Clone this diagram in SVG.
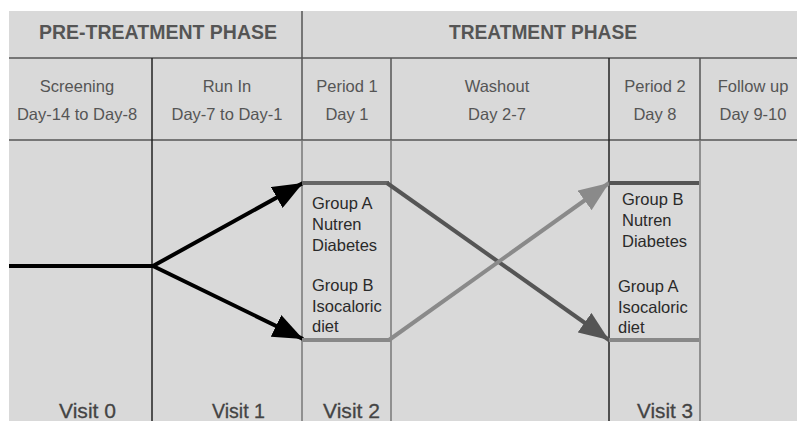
<svg xmlns="http://www.w3.org/2000/svg" width="797" height="421" viewBox="0 0 797 421">
<style>
.hdr{font-family:"Liberation Sans",Arial,sans-serif;font-weight:bold;font-size:20px;fill:#555}
.sub{font-family:"Liberation Sans",Arial,sans-serif;font-size:16.5px;fill:#555;text-anchor:middle}
.box{font-family:"Liberation Sans",Arial,sans-serif;font-size:16.5px;fill:#2a2a2a}
.visit{font-family:"Liberation Sans",Arial,sans-serif;font-size:21px;fill:#444;stroke:#444;stroke-width:0.3}
.grid{stroke:#555;stroke-width:1.5;fill:none}
.gridd{stroke:#222;stroke-width:1.5;fill:none}
.gridl{stroke:#777;stroke-width:1.5;fill:none}
</style>
<defs>
<marker id="ahB" viewBox="0 0 10 8" refX="10" refY="4" markerWidth="7.5" markerHeight="6" orient="auto"><path d="M0,0 L10,4 L0,8 z" fill="#000"/></marker>
<marker id="ahD" viewBox="0 0 10 8" refX="10" refY="4" markerWidth="7.5" markerHeight="6" orient="auto"><path d="M0,0 L10,4 L0,8 z" fill="#555"/></marker>
<marker id="ahL" viewBox="0 0 10 8" refX="10" refY="4" markerWidth="7.5" markerHeight="6" orient="auto"><path d="M0,0 L10,4 L0,8 z" fill="#8a8a8a"/></marker>
</defs>
<rect x="0" y="0" width="797" height="421" fill="#fff"/>
<rect x="9" y="11" width="788" height="410" fill="#d9d9d9"/>
<g id="grid">
<line class="grid" x1="9" y1="58" x2="797" y2="58"/>
<line class="grid" x1="9" y1="140" x2="797" y2="140"/>
<line class="gridd" x1="152" y1="58" x2="152" y2="421"/>
<line class="grid" x1="302" y1="11" x2="302" y2="140"/>
<line class="gridl" x1="302" y1="140" x2="302" y2="421"/>
<line class="grid" x1="391" y1="58" x2="391" y2="140"/>
<line class="gridl" x1="391" y1="140" x2="391" y2="421"/>
<line class="gridd" x1="609" y1="58" x2="609" y2="421"/>
<line class="grid" x1="700" y1="58" x2="700" y2="140"/>
<line class="gridl" x1="700" y1="140" x2="700" y2="421"/>
</g>
<g id="phase-pre"><text class="hdr" x="39" y="39" textLength="238" lengthAdjust="spacingAndGlyphs">PRE-TREATMENT PHASE</text></g>
<g id="phase-treat"><text class="hdr" x="449" y="39" textLength="188" lengthAdjust="spacingAndGlyphs">TREATMENT PHASE</text></g>
<g id="col-screening"><text class="sub" x="77" y="92">Screening</text><text class="sub" x="77" y="120">Day-14 to Day-8</text></g>
<g id="col-runin"><text class="sub" x="227" y="92">Run In</text><text class="sub" x="227" y="120">Day-7 to Day-1</text></g>
<g id="col-period1"><text class="sub" x="347" y="92">Period 1</text><text class="sub" x="347" y="120">Day 1</text></g>
<g id="col-washout"><text class="sub" x="497" y="92">Washout</text><text class="sub" x="497" y="120">Day 2-7</text></g>
<g id="col-period2"><text class="sub" x="655" y="92">Period 2</text><text class="sub" x="655" y="120">Day 8</text></g>
<g id="col-followup"><text class="sub" x="753" y="92">Follow up</text><text class="sub" x="753" y="120">Day 9-10</text></g>
<g id="connectors" fill="none">
<line x1="9" y1="266" x2="154" y2="266" stroke="#000" stroke-width="4"/>
<line x1="153" y1="266" x2="303" y2="183" stroke="#000" stroke-width="4" marker-end="url(#ahB)"/>
<line x1="153" y1="266" x2="303" y2="339" stroke="#000" stroke-width="4" marker-end="url(#ahB)"/>
<line x1="302" y1="183" x2="389" y2="183" stroke="#666" stroke-width="4"/>
<polyline points="387,183 609,340" stroke="#555" stroke-width="4" marker-end="url(#ahD)"/>
<line x1="302" y1="340" x2="391" y2="340" stroke="#888" stroke-width="4"/>
<polyline points="389,340 609,183" stroke="#8a8a8a" stroke-width="4" marker-end="url(#ahL)"/>
<line x1="609" y1="183" x2="699" y2="183" stroke="#555" stroke-width="4"/>
<line x1="609" y1="340" x2="699" y2="340" stroke="#888" stroke-width="4"/>
</g>
<g id="box-period1">
<text class="box" x="312" y="209">Group A</text>
<text class="box" x="312" y="230">Nutren</text>
<text class="box" x="312" y="251">Diabetes</text>
<text class="box" x="312" y="291">Group B</text>
<text class="box" x="312" y="312">Isocaloric</text>
<text class="box" x="312" y="332">diet</text>
</g>
<g id="box-period2">
<text class="box" x="622" y="205">Group B</text>
<text class="box" x="622" y="226">Nutren</text>
<text class="box" x="622" y="247">Diabetes</text>
<text class="box" x="618" y="292">Group A</text>
<text class="box" x="618" y="313">Isocaloric</text>
<text class="box" x="618" y="333">diet</text>
</g>
<g id="visit0"><text class="visit" x="59" y="418" textLength="57" lengthAdjust="spacingAndGlyphs">Visit 0</text></g>
<g id="visit1"><text class="visit" x="212" y="418" textLength="53" lengthAdjust="spacingAndGlyphs">Visit 1</text></g>
<g id="visit2"><text class="visit" x="323" y="418" textLength="57" lengthAdjust="spacingAndGlyphs">Visit 2</text></g>
<g id="visit3"><text class="visit" x="637" y="418" textLength="56" lengthAdjust="spacingAndGlyphs">Visit 3</text></g>
</svg>
